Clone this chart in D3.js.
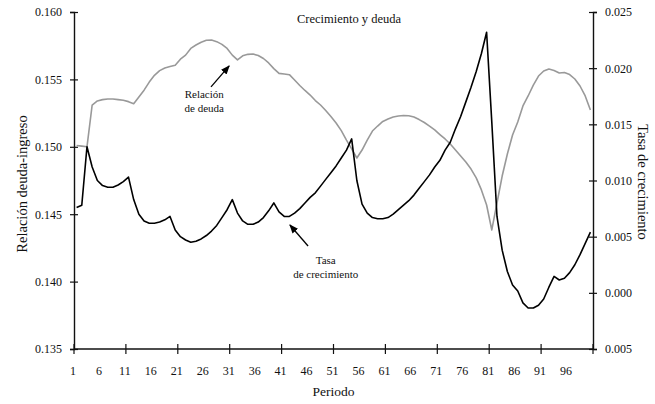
<!DOCTYPE html>
<html>
<head>
<meta charset="utf-8">
<script src="https://cdn.jsdelivr.net/npm/d3@7/dist/d3.min.js"></script>
<style>
  html, body { margin: 0; padding: 0; background: #fff; }
  svg { display: block; }
  svg text { font-family: "Liberation Serif", "DejaVu Serif", "Tinos", "Noto Serif", serif; fill: #111; }
</style>
</head>
<body>
<svg id="chart" width="655" height="404"></svg>
<script>
// Periods 1..100
const periods = d3.range(1, 101);

// Debt-to-income ratio (left axis)
const debtRatio = [
  0.1501, 0.15005, 0.1500, 0.1531, 0.1534, 0.1535, 0.15355, 0.15355, 0.1535, 0.15345,
  0.15335, 0.1532, 0.1537, 0.1542, 0.1548, 0.1553, 0.15565, 0.15585, 0.15595, 0.15605,
  0.1565, 0.1568, 0.1573, 0.15755, 0.15775, 0.1579, 0.15792, 0.1578, 0.1576, 0.1573,
  0.1568, 0.15645, 0.15675, 0.15686, 0.15688, 0.15677, 0.15655, 0.15622, 0.1558, 0.15545,
  0.1554, 0.15535, 0.15496, 0.15455, 0.15418, 0.15384, 0.15343, 0.1531, 0.15269, 0.15225,
  0.15177, 0.1512, 0.1505, 0.14985, 0.14917, 0.14976, 0.1505, 0.15117, 0.15154, 0.15188,
  0.15206, 0.15221, 0.15228, 0.15232, 0.1523, 0.15221, 0.15202, 0.1518, 0.15154, 0.15125,
  0.15091, 0.15058, 0.15021, 0.14976, 0.14932, 0.14887, 0.14835, 0.14769, 0.1468, 0.14568,
  0.14383, 0.14583, 0.14783, 0.14947, 0.15088, 0.15184, 0.15303, 0.15377, 0.15458, 0.15525,
  0.15562, 0.15577, 0.15566, 0.15547, 0.15551, 0.15536, 0.15503, 0.15451, 0.15377, 0.15273
];

// Growth rate (right axis)
const growthRate = [
  0.0076, 0.0078, 0.0130, 0.0112, 0.0100, 0.00955, 0.0094, 0.0094, 0.0096, 0.0099,
  0.0103, 0.0083, 0.0070, 0.0064, 0.0062, 0.0062, 0.0063, 0.0065, 0.0068, 0.0056,
  0.0050, 0.0047, 0.0045, 0.0046, 0.0048, 0.0051, 0.0055, 0.0060, 0.0067, 0.0074,
  0.0083, 0.0071, 0.0064, 0.0061, 0.0061, 0.0063, 0.0067, 0.0073, 0.0080, 0.0072,
  0.0068, 0.0068, 0.0071, 0.0075, 0.0080, 0.0085, 0.0089, 0.0095, 0.0101, 0.0107,
  0.0113, 0.0120, 0.0127, 0.0137, 0.0100, 0.0079, 0.0071, 0.0067, 0.0066, 0.0066,
  0.0067, 0.0070, 0.0074, 0.0078, 0.0082, 0.0087, 0.0093, 0.0099, 0.0105, 0.0112,
  0.0118, 0.0127, 0.0134, 0.0146, 0.0157, 0.0170, 0.0183, 0.0197, 0.0213, 0.0232,
  0.0152, 0.0068, 0.0038, 0.0019, 0.0007, 0.00016, -0.0009, -0.00135, -0.00135, -0.0011,
  -0.00055, 0.0005, 0.00146, 0.00114, 0.0013, 0.0018, 0.0025, 0.0034, 0.0044, 0.0054
];

// Axis ticks and labels
const xLabelPeriods = d3.range(1, 100, 5);          // 1, 6, 11, ... 96
const xTickPeriods = d3.range(1, 102, 10);          // 1, 11, ... 101
const leftTicks = [0.135, 0.140, 0.145, 0.150, 0.155, 0.160];
const rightTicks = [-0.005, 0.000, 0.005, 0.010, 0.015, 0.020, 0.025];
const rightTickLabels = ["0.005", "0.000", "0.005", "0.010", "0.015", "0.020", "0.025"];

const FONT = "'Liberation Serif', 'DejaVu Serif', Tinos, 'Noto Serif', serif";

const svg = d3.select("#chart");
const plot = { left: 74, right: 593, top: 12, bottom: 349 };

const x = d3.scaleLinear().domain([0.5, 100.5]).range([plot.left, plot.right]);
const yLeft = d3.scaleLinear().domain([0.135, 0.160]).range([plot.bottom, plot.top]);
const yRight = d3.scaleLinear().domain([-0.005, 0.025]).range([plot.bottom, plot.top]);

// Left axis
const gL = svg.append("g")
  .attr("transform", `translate(${plot.left},0)`)
  .call(d3.axisLeft(yLeft).tickValues(leftTicks).tickFormat(d3.format(".3f")).tickSizeOuter(0).tickSize(4).tickPadding(8));
gL.selectAll(".tick line").attr("x1", -4).attr("x2", 4);

// Right axis
const gR = svg.append("g")
  .attr("transform", `translate(${plot.right},0)`)
  .call(d3.axisRight(yRight).tickValues(rightTicks)
    .tickFormat((d, i) => rightTickLabels[i]).tickSizeOuter(0).tickSize(4).tickPadding(8));
gR.selectAll(".tick line").attr("x1", -4).attr("x2", 4);

// Bottom axis: tick marks at every ten periods, labels every five
const gB = svg.append("g").attr("transform", `translate(0,${plot.bottom})`);
gB.append("line")
  .attr("x1", x(0.5)).attr("x2", x(100.5))
  .attr("stroke", "#111").attr("stroke-width", 1.4);
gB.selectAll("line.tk").data(xTickPeriods).join("line")
  .attr("class", "tk")
  .attr("x1", d => x(d - 0.5)).attr("x2", d => x(d - 0.5))
  .attr("y1", -5).attr("y2", 5)
  .attr("stroke", "#111").attr("stroke-width", 1.2);
gB.selectAll("text").data(xLabelPeriods).join("text")
  .attr("x", d => x(d - 0.5) - 1)
  .attr("y", 26)
  .attr("text-anchor", "middle")
  .attr("font-size", 12)
  .text(d => d);

[gL, gR].forEach(g => {
  g.attr("font-family", FONT);
  g.select(".domain").attr("stroke", "#111").attr("stroke-width", 1.4);
  g.selectAll(".tick line").attr("stroke", "#111").attr("stroke-width", 1.2);
  g.selectAll(".tick text")
    .style("font-family", FONT)
    .attr("font-size", 12).attr("fill", "#111");
});

// Series
const lineLeft = d3.line().x((d, i) => x(periods[i])).y(d => yLeft(d));
const lineRight = d3.line().x((d, i) => x(periods[i])).y(d => yRight(d));

svg.append("path").datum(debtRatio)
  .attr("d", lineLeft)
  .attr("fill", "none").attr("stroke", "#999").attr("stroke-width", 1.6)
  .attr("stroke-linejoin", "round");

svg.append("path").datum(growthRate)
  .attr("d", lineRight)
  .attr("fill", "none").attr("stroke", "#000").attr("stroke-width", 1.6)
  .attr("stroke-linejoin", "round");

// Titles
svg.append("text")
  .attr("x", 349).attr("y", 23)
  .attr("text-anchor", "middle").attr("font-size", 12.5)
  .text("Crecimiento y deuda");

svg.append("text")
  .attr("x", (plot.left + plot.right) / 2).attr("y", 396)
  .attr("text-anchor", "middle").attr("font-size", 13.5)
  .text("Periodo");

svg.append("text")
  .attr("transform", "translate(27,184) rotate(-90)")
  .attr("text-anchor", "middle").attr("font-size", 14.5)
  .text("Relación deuda-ingreso");

svg.append("text")
  .attr("transform", "translate(638,182) rotate(90)")
  .attr("text-anchor", "middle").attr("font-size", 14.5)
  .text("Tasa de crecimiento");

// Annotations with arrows
const defs = svg.append("defs");
defs.append("marker")
  .attr("id", "arrow").attr("viewBox", "0 0 10 10")
  .attr("refX", 9).attr("refY", 5)
  .attr("markerWidth", 7).attr("markerHeight", 7)
  .attr("orient", "auto-start-reverse")
  .append("path").attr("d", "M0,1 L10,5 L0,9 Z").attr("fill", "#000");

const notes = [
  { lines: ["Relación", "de deuda"], scale: yLeft, textAt: [25.6, 0.15361],
    from: [26.9, 0.15444], to: [30.4, 0.1560] },
  { lines: ["Tasa", "de crecimiento"], scale: yRight, textAt: [49.0, 0.00255],
    from: [45.6, 0.00417], to: [42.1, 0.00604] }
];

notes.forEach(n => {
  const t = svg.append("text")
    .attr("text-anchor", "middle").attr("font-size", 11);
  n.lines.forEach((s, i) => {
    t.append("tspan")
      .attr("x", x(n.textAt[0]))
      .attr("y", n.scale(n.textAt[1]) + i * 13.5)
      .text(s);
  });
  svg.append("line")
    .attr("x1", x(n.from[0])).attr("y1", n.scale(n.from[1]))
    .attr("x2", x(n.to[0])).attr("y2", n.scale(n.to[1]))
    .attr("stroke", "#000").attr("stroke-width", 1.3)
    .attr("marker-end", "url(#arrow)");
});
</script>
</body>
</html>
